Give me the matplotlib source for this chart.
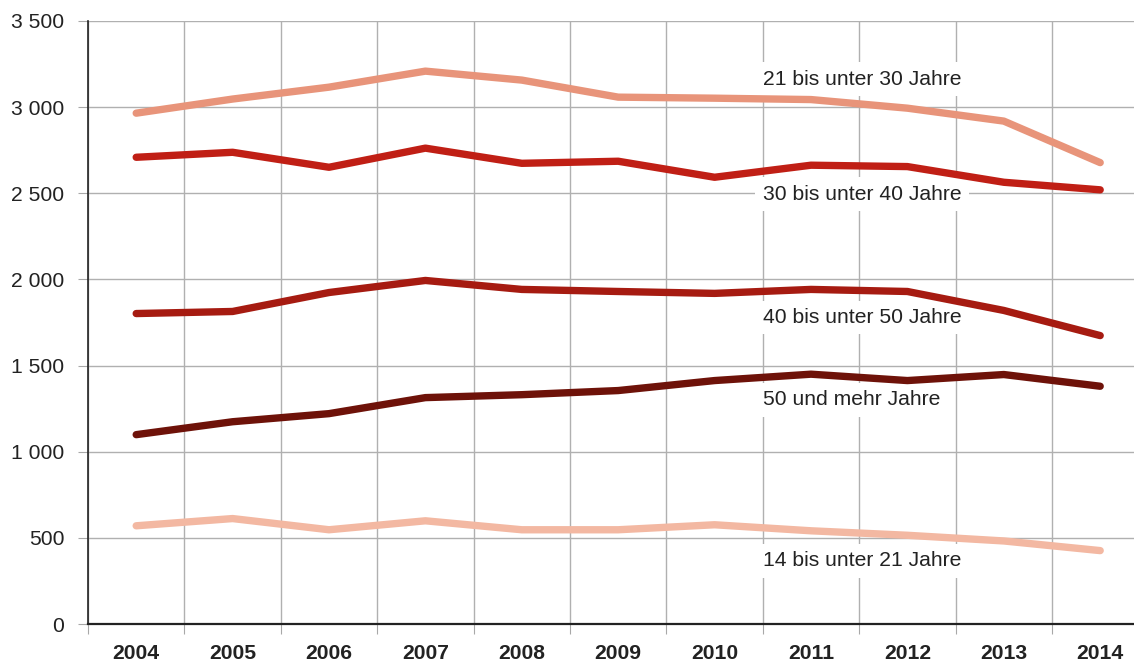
import matplotlib
matplotlib.use("Agg")
import matplotlib.pyplot as plt
from matplotlib.ticker import FixedLocator, FuncFormatter

years = ["2004", "2005", "2006", "2007", "2008", "2009", "2010", "2011", "2012", "2013", "2014"]

age_21_30 = [2965, 3047, 3116, 3209, 3157, 3058, 3052, 3044, 2994, 2919, 2678]
age_30_40 = [2709, 2738, 2651, 2762, 2674, 2686, 2593, 2663, 2655, 2564, 2520]
age_40_50 = [1802, 1814, 1924, 1994, 1942, 1930, 1919, 1942, 1930, 1820, 1674]
age_50_plus = [1099, 1174, 1221, 1314, 1331, 1355, 1413, 1450, 1413, 1448, 1380]
age_14_21 = [570, 612, 547, 599, 547, 547, 576, 541, 515, 482, 426]

series_names = ["21 bis unter 30 Jahre", "30 bis unter 40 Jahre", "40 bis unter 50 Jahre",
                "50 und mehr Jahre", "14 bis unter 21 Jahre"]
series_values = [age_21_30, age_30_40, age_40_50, age_50_plus, age_14_21]
colors = ["#E8947A", "#C01F15", "#A61B11", "#6E1209", "#F3B8A2"]
label_y = [3163, 2494, 1779, 1302, 366]

plt.rcParams['font.family'] = ['Liberation Sans', 'DejaVu Sans']

fig = plt.figure(figsize=(11.34, 6.64), dpi=100)
left = 88 / 1134
right = 1148.4 / 1134
bottom = 1 - 624 / 664
top = 1 - 21 / 664
ax = fig.add_axes([left, bottom, right - left, top - bottom])

x = list(range(len(years)))
for vals, c in zip(series_values, colors):
    ax.plot(x, vals, color=c, lw=5.3, solid_capstyle='round', solid_joinstyle='round', zorder=3)

for name, ly in zip(series_names, label_y):
    ax.text(6.5, ly, name, ha='left', va='center', fontsize=15.2, color='#222222',
            bbox=dict(boxstyle='square,pad=0.35', fc='white', ec='none'), zorder=2.5)

ax.set_xlim(-0.5, 10.5)
ax.set_ylim(0, 3500)

ax.set_xticks(x)
ax.set_xticklabels(years, fontsize=15.2, fontweight='bold', color='#222222')
ax.xaxis.set_minor_locator(FixedLocator([i - 0.5 for i in range(len(years) + 1)]))
ax.tick_params(axis='x', which='major', length=0, pad=14.5)
ax.tick_params(axis='x', which='minor', length=7, width=0.8, color='#a8a8a8')
ax.grid(True, axis='x', which='minor', color='#b0b0b0', lw=1.0, zorder=0)

ax.set_yticks(range(0, 3501, 500))
ax.yaxis.set_major_formatter(FuncFormatter(lambda v, p: f"{int(v):,}".replace(",", " ")))
ax.tick_params(axis='y', length=7, width=0.8, color='#a8a8a8', pad=10, labelsize=15.2,
               labelcolor='#222222')
ax.grid(True, axis='y', which='major', color='#b0b0b0', lw=1.0, zorder=0)
ax.set_axisbelow(True)

for s in ['top', 'right']:
    ax.spines[s].set_visible(False)
ax.spines['left'].set_color('#222222')
ax.spines['left'].set_linewidth(1.2)
ax.spines['bottom'].set_color('#222222')
ax.spines['bottom'].set_linewidth(1.6)

fig.savefig("out.png", dpi=100)
